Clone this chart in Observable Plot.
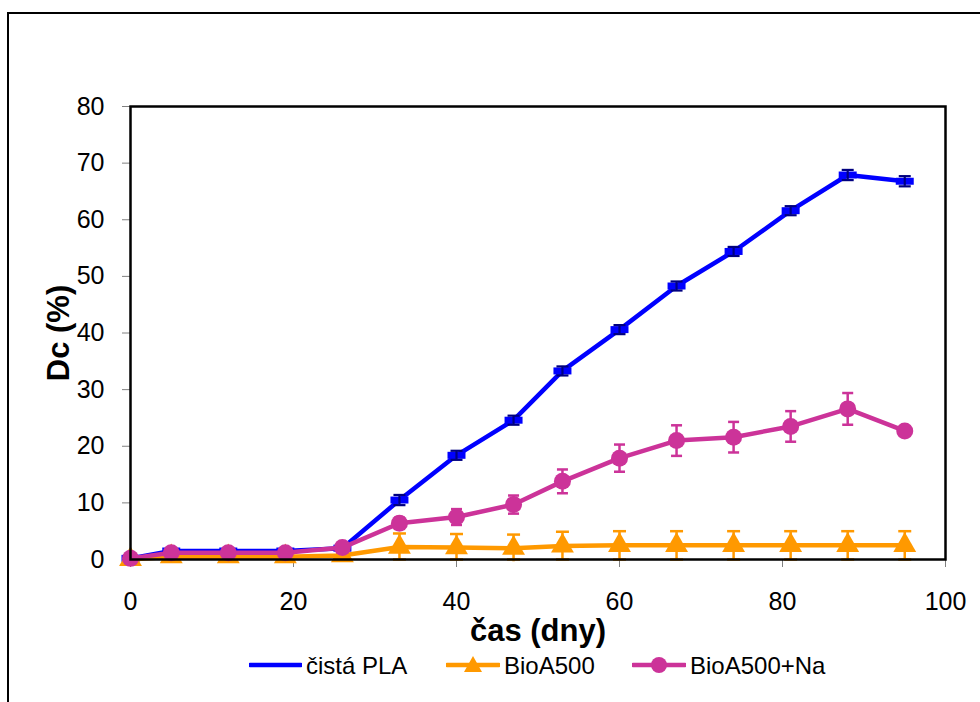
<!DOCTYPE html>
<html>
<head>
<meta charset="utf-8">
<script src="https://cdn.jsdelivr.net/npm/d3@7"></script>
<script src="https://cdn.jsdelivr.net/npm/@observablehq/plot@0.6"></script>
<style>
  html, body { margin: 0; padding: 0; background: #fff; }
  #wrap { position: relative; width: 980px; height: 702px; overflow: hidden; background: #fff;
          font-family: "Liberation Sans", Arial, sans-serif; }
  #outer { position: absolute; left: 7px; top: 12px; width: 1100px; height: 1000px;
           border: 2px solid #000; box-sizing: border-box; }
  #chart { position: absolute; left: 0; top: 0; }
  .sw { position: absolute; top: 650px; }
  .lt { position: absolute; top: 651px; height: 30px; line-height: 30px;
        font-size: 24px; color: #000; white-space: nowrap; }
</style>
</head>
<body>
<div id="wrap">
  <div id="outer"></div>
  <div id="chart"></div>
  <div id="legend"></div>
</div>
<script>
// ---- data ----
const days = [0, 5, 12, 19, 26, 33, 40, 47, 53, 60, 67, 74, 81, 88, 95];
const seriesNames = ["čistá PLA", "BioA500", "BioA500+Na"];
const plaValues = [0.2, 1.5, 1.5, 1.5, 2.0, 10.5, 18.4, 24.6, 33.3, 40.6, 48.3, 54.4, 61.6, 67.9, 66.8];
const plaErrors = [0, 0, 0, 0, 0, 0.9, 0.8, 0.8, 0.8, 0.8, 0.8, 0.8, 0.8, 0.9, 0.9];
const bioValues = [0, 0.5, 0.5, 0.5, 0.7, 2.2, 2.1, 2.0, 2.4, 2.5, 2.5, 2.5, 2.5, 2.5, 2.5];
const bioErrors = [0, 0, 0, 0, 0, 2.4, 2.4, 2.4, 2.5, 2.5, 2.5, 2.5, 2.5, 2.5, 2.5];
const naValues = [0.2, 1.2, 1.2, 1.2, 2.1, 6.4, 7.5, 9.7, 13.8, 17.9, 21.0, 21.6, 23.5, 26.6, 22.7];
const naErrors = [0, 0, 0, 0, 0, 1.0, 1.4, 1.6, 2.1, 2.4, 2.7, 2.7, 2.7, 2.8, 0];
const xTicks = [0, 20, 40, 60, 80, 100];
const yTicks = [0, 10, 20, 30, 40, 50, 60, 70, 80];
const xLabel = "čas (dny)";
const yLabel = "Dc (%)";

const colors = {pla: "#0000FF", plaErr: "#000080", bio: "#FF9900", na: "#CC3399"};

function rows(vals, errs) {
  return days.map((d, i) => ({x: d, y: vals[i], e: errs[i]}));
}
const pla = rows(plaValues, plaErrors);
const bio = rows(bioValues, bioErrors);
const na = rows(naValues, naErrors);

// custom symbols
const capSym = w => ({draw(ctx) { ctx.moveTo(-w / 2, 0); ctx.lineTo(w / 2, 0); }});
const dashSym = {draw(ctx) { ctx.rect(-9, -3.5, 18, 7); }};

function errMarks(data, color, capW, sw) {
  const d = data.filter(r => r.e > 0);
  return [
    Plot.ruleX(d, {x: "x", y1: r => r.y - r.e, y2: r => r.y + r.e, stroke: color, strokeWidth: sw}),
    Plot.dot(d, {x: "x", y: r => r.y + r.e, symbol: capSym(capW), r: 4, stroke: color, strokeWidth: sw, fill: "none"}),
    Plot.dot(d, {x: "x", y: r => Math.max(0, r.y - r.e), symbol: capSym(capW), r: 4, stroke: color, strokeWidth: sw, fill: "none"})
  ];
}

const chart = Plot.plot({
  width: 980,
  height: 702,
  marginLeft: 130,
  marginRight: 35,
  marginTop: 106,
  marginBottom: 143,
  style: {fontFamily: "'Liberation Sans', Arial, sans-serif", fontSize: "25px", background: "transparent", overflow: "visible"},
  x: {domain: [0, 100]},
  y: {domain: [0, 80]},
  marks: [
    Plot.axisX({ticks: xTicks, tickSize: 8, tickPadding: 25, stroke: "#808080", fill: "#000", fontSize: 25, label: null}),
    Plot.axisY({ticks: yTicks, tickSize: 8, tickPadding: 18, stroke: "#808080", fill: "#000", fontSize: 25, label: null}),
    // blue
    Plot.line(pla, {x: "x", y: "y", stroke: colors.pla, strokeWidth: 4.5}),
    Plot.dot(pla, {x: "x", y: "y", symbol: dashSym, r: 5, fill: colors.pla, stroke: "none"}),
    ...errMarks(pla, colors.plaErr, 12, 2.2),
    // orange
    Plot.line(bio, {x: "x", y: "y", stroke: colors.bio, strokeWidth: 4.5}),
    ...errMarks(bio, colors.bio, 13, 2.5),
    Plot.dot(bio, {x: "x", y: "y", symbol: "triangle", r: 8.5, fill: colors.bio, stroke: "none"}),
    // magenta
    Plot.line(na, {x: "x", y: "y", stroke: colors.na, strokeWidth: 4.5}),
    ...errMarks(na, colors.na, 11, 2.5),
    Plot.dot(na, {x: "x", y: "y", r: 8.5, fill: colors.na, stroke: "none"}),
    Plot.frame({stroke: "#000", strokeWidth: 2.5}),
    Plot.text([xLabel], {frameAnchor: "bottom", dy: 72, lineAnchor: "middle", textAnchor: "middle", fontSize: 31, fontWeight: "bold", fill: "#000"}),
    Plot.text([yLabel], {frameAnchor: "left", dx: -71, rotate: -90, lineAnchor: "middle", textAnchor: "middle", fontSize: 31, fontWeight: "bold", fill: "#000"})
  ]
});
document.getElementById("chart").appendChild(chart);

// legend
const legend = document.getElementById("legend");
const legItems = [
  {name: seriesNames[0], color: colors.pla, left: 249, w: 53, textLeft: 306, sym: null},
  {name: seriesNames[1], color: colors.bio, left: 446, w: 54, textLeft: 504, sym: "tri"},
  {name: seriesNames[2], color: colors.na, left: 632, w: 54, textLeft: 690, sym: "dot"}
];
for (const it of legItems) {
  const h = 30, c = it.w / 2;
  let symSvg = "";
  if (it.sym === "tri") symSvg = `<path d="M${c},${h/2-9} L${c+9},${h/2+7} L${c-9},${h/2+7} Z" fill="${it.color}"/>`;
  if (it.sym === "dot") symSvg = `<circle cx="${c}" cy="${h/2}" r="8" fill="${it.color}"/>`;
  const sw = document.createElement("div");
  sw.className = "sw";
  sw.style.left = it.left + "px";
  sw.innerHTML = `<svg width="${it.w}" height="${h}" style="display:block"><line x1="1" x2="${it.w-1}" y1="${h/2}" y2="${h/2}" stroke="${it.color}" stroke-width="4.5" stroke-linecap="round"/>${symSvg}</svg>`;
  legend.appendChild(sw);
  const t = document.createElement("div");
  t.className = "lt";
  t.style.left = it.textLeft + "px";
  t.textContent = it.name;
  legend.appendChild(t);
}
</script>
</body>
</html>
